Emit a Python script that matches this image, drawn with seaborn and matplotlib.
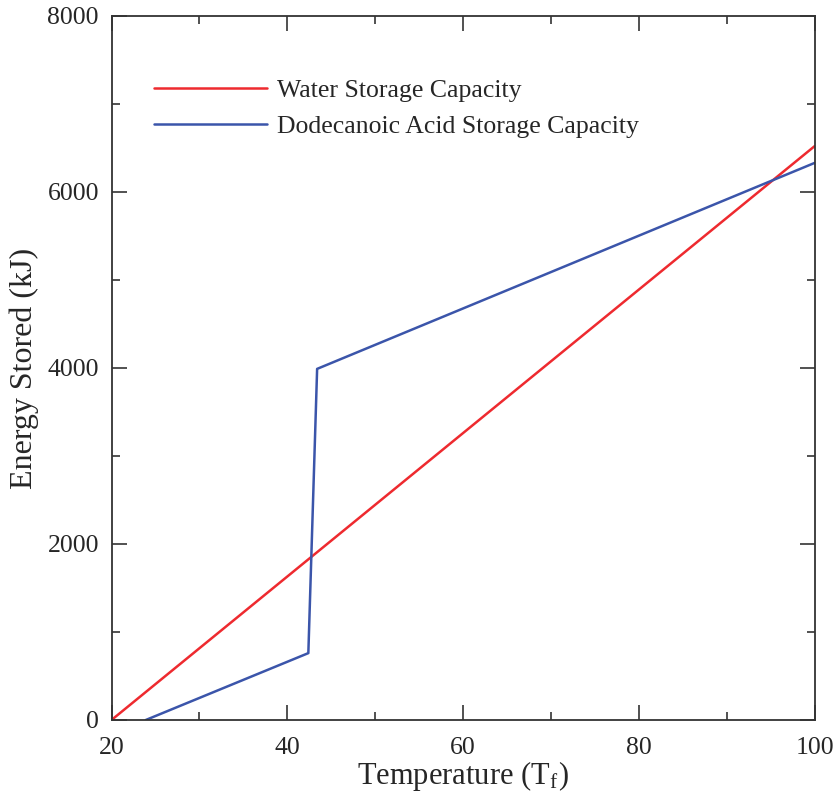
import matplotlib
matplotlib.use("Agg")
import matplotlib.pyplot as plt
import seaborn as sns
import pandas as pd
from matplotlib.ticker import MultipleLocator

water_temp = [20, 100]
water_energy = [0, 6520]
acid_temp = [23.9, 42.4, 43.4, 100]
acid_energy = [0, 760, 3990, 6330]
series_names = ["Water Storage Capacity", "Dodecanoic Acid Storage Capacity"]

df = pd.concat([
    pd.DataFrame({"T": water_temp, "E": water_energy, "series": series_names[0]}),
    pd.DataFrame({"T": acid_temp, "E": acid_energy, "series": series_names[1]}),
], ignore_index=True)

sns.set_style("ticks")
plt.rcParams["font.family"] = ["Liberation Serif", "DejaVu Serif"]
plt.rcParams["mathtext.fontset"] = "stix"

fig = plt.figure(figsize=(8.35, 7.96), dpi=100)
ax = fig.add_axes([111.5 / 835, 76 / 796, 703 / 835, 704 / 796])

sns.lineplot(data=df, x="T", y="E", hue="series", sort=False,
             palette=["#ee2a2f", "#3b55aa"], linewidth=1.8, ax=ax,
             estimator=None)

ax.set_xlim(20, 100)
ax.set_ylim(0, 8000)
ax.xaxis.set_major_locator(MultipleLocator(20))
ax.xaxis.set_minor_locator(MultipleLocator(10))
ax.yaxis.set_major_locator(MultipleLocator(2000))
ax.yaxis.set_minor_locator(MultipleLocator(1000))
ax.tick_params(which="both", direction="in", top=True, right=True,
               color="#333333", width=1.2)
ax.tick_params(which="major", length=11, labelsize=18.5)
ax.tick_params(axis="x", which="major", pad=12)
ax.tick_params(axis="y", which="major", pad=9)
ax.tick_params(which="minor", length=6)
for s in ax.spines.values():
    s.set_linewidth(1.3)
    s.set_color("#333333")

ax.set_xlabel("Temperature (T$_\\mathregular{f}$)", fontsize=22, labelpad=0)
ax.set_ylabel("Energy Stored (kJ)", fontsize=23, labelpad=6)

leg = ax.legend(loc="upper left", bbox_to_anchor=(0.0605, 0.910), frameon=False,
                fontsize=18.5, handlelength=4.4, handletextpad=0.4,
                labelspacing=0.5, borderpad=0, borderaxespad=0)
for line in leg.get_lines():
    line.set_linewidth(1.8)

fig.savefig("out.png", dpi=100)
